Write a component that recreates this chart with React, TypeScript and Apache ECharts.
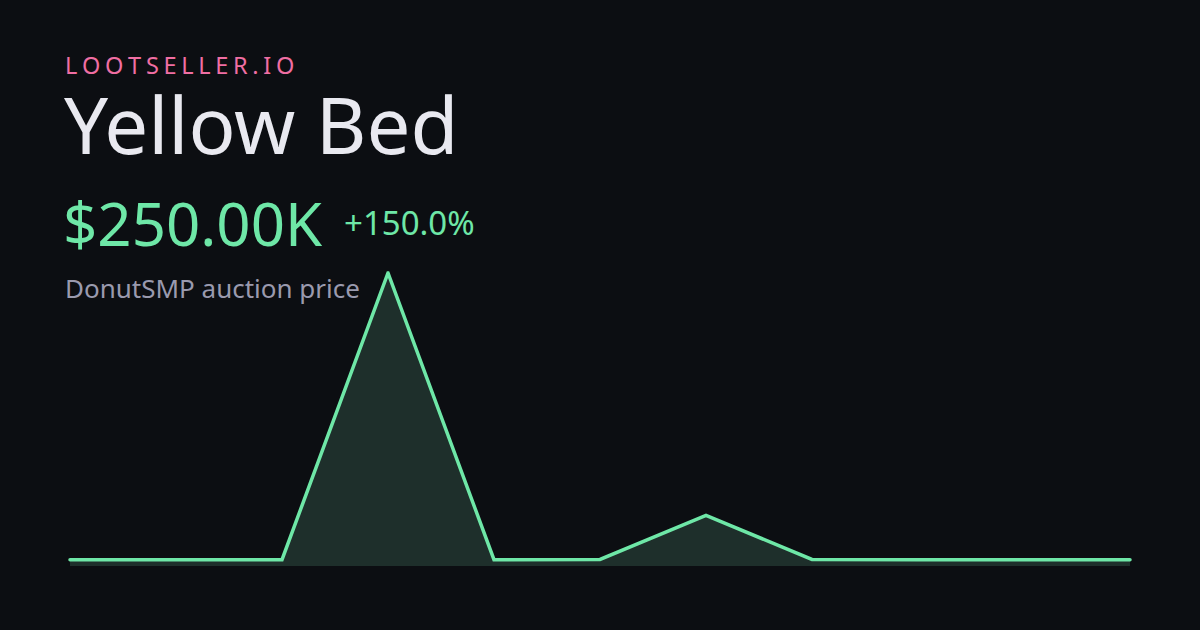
import { useEffect, useRef } from "react";
import * as echarts from "echarts";

const brand = "LOOTSELLER.IO";
const itemName = "Yellow Bed";
const priceLabel = "$250.00K";
const changeLabel = "+150.0%";
const subtitle = "DonutSMP auction price";

// sample index per point, price in thousands
const days = ["1", "2", "3", "4", "5", "6", "7", "8", "9", "10", "11"];
const prices = [250, 250, 250, 11600, 250, 262, 2000, 262, 250, 250, 250];

const FONT = "'Noto Sans', 'Open Sans', sans-serif";
const GREEN = "#6ee7a7";

export default function App() {
  const chartRef = useRef<HTMLDivElement>(null);

  useEffect(() => {
    if (!chartRef.current) return;
    const chart = echarts.init(chartRef.current, null, { renderer: "svg" });

    chart.setOption({
      animation: false,
      backgroundColor: "#0c0e12",
      grid: { left: 70, right: 70, top: 273, bottom: 64 },
      xAxis: {
        type: "category",
        data: days,
        boundaryGap: false,
        show: false,
      },
      yAxis: {
        type: "value",
        min: 0,
        max: "dataMax",
        show: false,
      },
      series: [
        {
          type: "line",
          data: prices,
          showSymbol: false,
          lineStyle: { color: GREEN, width: 3.5, cap: "round", join: "miter" },
          areaStyle: { color: "#1e2f2b", opacity: 1 },
        },
      ],
      graphic: [
        {
          type: "text",
          left: 65,
          top: 52,
          style: {
            text: brand.split("").join("\u200A\u200A"),
            fill: "#f06ea3",
            font: `400 23.5px ${FONT}`,
            lineHeight: 26,
          },
        },
        {
          type: "text",
          left: 64,
          top: 84,
          style: {
            text: itemName,
            fill: "#e9e9f0",
            font: `400 78px ${FONT}`,
            lineHeight: 80,
          },
        },
        {
          type: "text",
          left: 63,
          top: 190,
          style: {
            text: priceLabel,
            fill: GREEN,
            font: `400 60px ${FONT}`,
            lineHeight: 66,
          },
        },
        {
          type: "text",
          left: 344,
          top: 203,
          style: {
            text: changeLabel,
            fill: GREEN,
            font: `400 33px ${FONT}`,
            lineHeight: 38,
          },
        },
        {
          type: "text",
          left: 65,
          top: 272,
          style: {
            text: subtitle,
            fill: "#9a9aae",
            font: `400 26px ${FONT}`,
            lineHeight: 32,
          },
        },
      ],
    });

    return () => chart.dispose();
  }, []);

  return (
    <div
      ref={chartRef}
      style={{ width: 1200, height: 630, position: "fixed", left: 0, top: 0 }}
    />
  );
}
